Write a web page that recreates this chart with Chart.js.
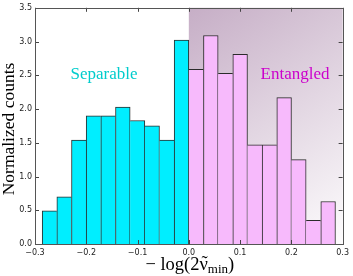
<!DOCTYPE html>
<html>
<head>
<meta charset="utf-8">
<script src="https://cdn.jsdelivr.net/npm/chart.js@4/dist/chart.umd.min.js"></script>
<style>
  html, body { margin: 0; padding: 0; background: #fff; }
  #wrap { width: 353px; height: 276px; }
</style>
</head>
<body>
<div id="wrap"><canvas id="hist"></canvas></div>
<script>
// ── Histogram data (bin centres, normalized counts) ─────────────────────────
const binCenters = [
  -0.2717, -0.2431, -0.2145, -0.1859, -0.1573, -0.1287, -0.1001, -0.0715, -0.0429, -0.0143,
   0.0143,  0.0429,  0.0715,  0.1001,  0.1287,  0.1573,  0.1859,  0.2145,  0.2431,  0.2717
];
const counts = [
  0.49, 0.70, 1.54, 1.90, 1.90, 2.03, 1.83, 1.75, 1.54, 3.02,
  2.59, 3.09, 2.53, 2.81, 1.47, 1.47, 2.17, 1.25, 0.35, 0.63
];
const xTicks = [-0.3, -0.2, -0.1, 0.0, 0.1, 0.2, 0.3];
const yTicks = [0.0, 0.5, 1.0, 1.5, 2.0, 2.5, 3.0, 3.5];

const CYAN = '#00eeff';
const PINK = '#f7bafc';
const SERIF = '"Liberation Serif", "DejaVu Serif", serif';

// shared edges drawn only once, by the taller bar
function edgeWidths(ctx) {
  const i = ctx.dataIndex, n = counts.length, h = counts[i];
  const left  = (i === 0 || counts[i - 1] <= h) ? 1 : 0;
  const right = (i === n - 1 || counts[i + 1] < h) ? 1 : 0;
  return { top: 1, left: left, right: right, bottom: 0 };
}

// ── Shaded "entangled" region, inward ticks, frame, text ────────────────────
const decor = {
  id: 'decor',
  beforeDatasetsDraw(chart) {
    const { ctx, chartArea: a, scales: { x } } = chart;
    const x0 = x.getPixelForValue(0);
    const g = ctx.createLinearGradient(x0, a.top, a.right, a.bottom);
    g.addColorStop(0, '#c6aec6');
    g.addColorStop(0.5, '#e2d6e2');
    g.addColorStop(1, '#fdfcfd');
    ctx.save();
    ctx.fillStyle = g;
    ctx.fillRect(x0, a.top, a.right - x0, a.bottom - a.top);
    ctx.restore();
  },
  afterDraw(chart) {
    const { ctx, chartArea: a, scales: { x, y } } = chart;
    ctx.save();
    ctx.strokeStyle = '#444';
    ctx.lineWidth = 1;
    ctx.beginPath();
    xTicks.forEach(v => {
      const px = Math.round(x.getPixelForValue(v)) + 0.5;
      ctx.moveTo(px, a.bottom); ctx.lineTo(px, a.bottom - 4);
      ctx.moveTo(px, a.top);    ctx.lineTo(px, a.top + 4);
    });
    yTicks.forEach(v => {
      const py = Math.round(y.getPixelForValue(v)) + 0.5;
      ctx.moveTo(a.left, py);  ctx.lineTo(a.left + 4, py);
      ctx.moveTo(a.right, py); ctx.lineTo(a.right - 4, py);
    });
    ctx.stroke();
    ctx.strokeStyle = '#555';
    ctx.strokeRect(Math.round(a.left) + 0.5, Math.round(a.top) + 0.5,
                   Math.round(a.right - a.left), Math.round(a.bottom - a.top));

    // annotations
    ctx.textBaseline = 'alphabetic';
    ctx.textAlign = 'center';
    ctx.font = '17px ' + SERIF;
    ctx.fillStyle = '#00cccc';
    ctx.fillText('Separable', 104, 79);
    ctx.fillStyle = '#cc00cc';
    ctx.fillText('Entangled', 295, 79);

    // y title
    ctx.fillStyle = '#000';
    ctx.font = '17.5px ' + SERIF;
    ctx.save();
    ctx.translate(14, 129);
    ctx.rotate(-Math.PI / 2);
    ctx.textAlign = 'center';
    ctx.fillText('Normalized counts', 0, 0);
    ctx.restore();

    // x title: − log(2ν̃_min), tilde placed over the nu by hand
    const big = '18.5px ' + SERIF, small = '13px ' + SERIF;
    const p1 = '\u2212 log(2', nu = '\u03BD', p2 = 'min', p3 = ')';
    ctx.font = big;
    const w1 = ctx.measureText(p1).width, wn = ctx.measureText(nu).width, w3 = ctx.measureText(p3).width;
    ctx.font = small; const w2 = ctx.measureText(p2).width;
    let cx = (a.left + a.right) / 2 - (w1 + wn + w2 + w3) / 2 + 1;
    const base = 270;
    ctx.textAlign = 'left';
    ctx.font = big;   ctx.fillText(p1, cx, base); cx += w1;
    ctx.fillText(nu, cx, base);
    ctx.textAlign = 'center';
    ctx.fillText('\u02DC', cx + wn / 2 + 1, base - 1);
    ctx.textAlign = 'left';
    cx += wn;
    ctx.font = small; ctx.fillText(p2, cx, base + 3); cx += w2;
    ctx.font = big;   ctx.fillText(p3, cx, base);
    ctx.restore();
  }
};

const fmt = v => {
  const r = Math.round(v * 10) / 10;
  return (r < 0 ? '\u2212' : '') + Math.abs(r).toFixed(1);
};

new Chart(document.getElementById('hist'), {
  type: 'bar',
  data: {
    datasets: [{
      data: binCenters.map((c, i) => ({ x: c, y: counts[i] })),
      backgroundColor: binCenters.map(c => c < 0 ? CYAN : PINK),
      borderColor: '#2b2b2b',
      borderWidth: edgeWidths,
      borderSkipped: false,
      barPercentage: 1,
      categoryPercentage: 1
    }]
  },
  options: {
    responsive: true,
    maintainAspectRatio: false,
    animation: false,
    layout: { padding: { top: 4, right: 8, left: 0, bottom: 0 } },
    plugins: { legend: { display: false }, tooltip: { enabled: false } },
    scales: {
      x: {
        type: 'linear', min: -0.3, max: 0.3, offset: false,
        grid: { display: false, drawTicks: false },
        border: { display: false },
        afterBuildTicks: s => { s.ticks = xTicks.map(v => ({ value: v })); },
        afterFit: s => { s.height = 32; },
        ticks: {
          callback: fmt, color: '#222', padding: 4, maxRotation: 0,
          font: { family: 'DejaVu Sans', size: 8 }
        }
      },
      y: {
        min: 0, max: 3.5,
        grid: { display: false, drawTicks: false },
        border: { display: false },
        afterBuildTicks: s => { s.ticks = yTicks.map(v => ({ value: v })); },
        afterFit: s => { s.width = 35; },
        ticks: {
          callback: v => v.toFixed(1), color: '#222', padding: 3,
          font: { family: 'DejaVu Sans', size: 8 }
        }
      }
    }
  },
  plugins: [decor]
});
</script>
</body>
</html>
